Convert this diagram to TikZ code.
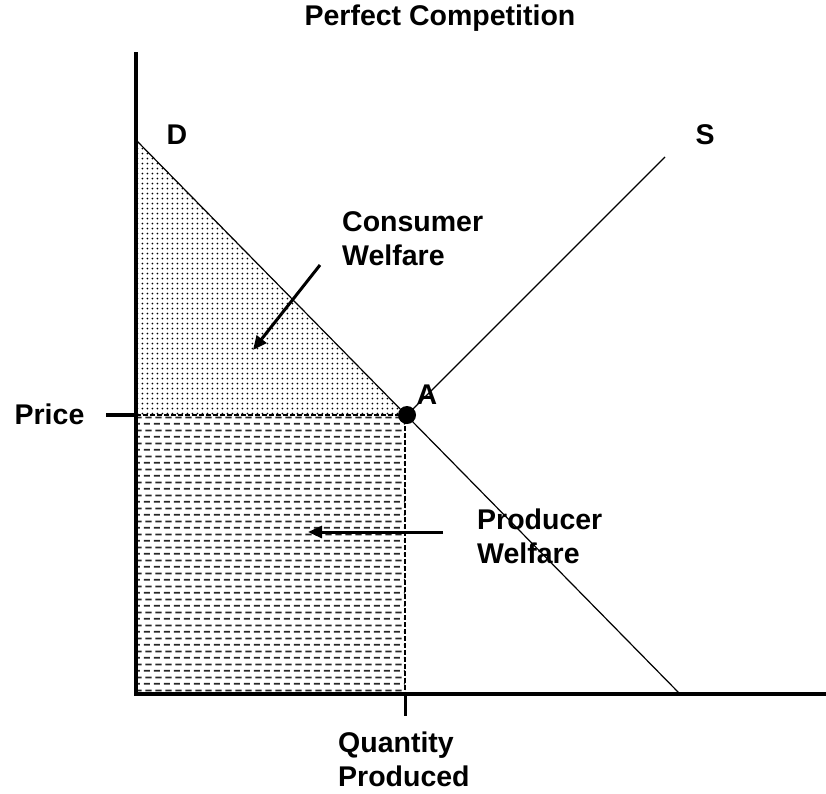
\documentclass[tikz,border=0pt]{standalone}
\usepackage{fontspec}
\setmainfont{Liberation Sans}
\usetikzlibrary{patterns.meta,arrows.meta}

% fill patterns for the two welfare areas
\tikzdeclarepattern{
  name=welfaredots,
  type=uncolored,
  bounding box={(0pt,0pt) and (5.4pt,5.4pt)},
  tile size={(5.4pt,5.4pt)},
  code={\fill (2.7pt,2.7pt) circle (1.1pt);}
}
\tikzdeclarepattern{
  name=welfaredash,
  type=uncolored,
  bounding box={(0pt,0pt) and (9.5pt,13.4pt)},
  tile size={(9.5pt,13.4pt)},
  code={
    \fill (0.8pt,2.4pt) rectangle (7.2pt,4.2pt);
    \fill (2.6pt,9.1pt) rectangle (9pt,10.9pt);
  }
}

\tikzset{
  axis/.style={line width=4.5pt},
  curve/.style={line width=1.2pt},
  lbl/.style={font=\fontsize{28.5}{34}\selectfont\bfseries, inner sep=0pt},
  pointer/.style={line width=3pt, -{Triangle[length=14pt,width=12pt]}},
  edge/.style={line width=2pt, dash pattern=on 5pt off 2pt},
}

\begin{document}
\begin{tikzpicture}[x=1pt,y=-1pt]
  \useasboundingbox (0,0) rectangle (826,793);

  % key points of the diagram
  \coordinate (O) at (136,694);
  \coordinate (Ytop) at (136,52);
  \coordinate (Xend) at (826,694);
  \coordinate (Dtop) at (136,140);
  \coordinate (Dend) at (680,694);
  \coordinate (Stop) at (665,157);
  \coordinate (P) at (136,415);
  \coordinate (Pl) at (106,415);
  \coordinate (Q) at (405,694);
  \coordinate (Qb) at (405,716);
  \coordinate (Aeq) at (407,415);

  % welfare areas
  \fill[pattern=welfaredots, pattern color=black] (Dtop) -- (Aeq) -- (P) -- cycle;
  \fill[pattern=welfaredash, pattern color=black!85] (P) rectangle (Q);

  % demand and supply
  \draw[curve] (Dtop) -- (Dend);
  \draw[curve] (Aeq) -- (Stop);

  % producer welfare edges
  \draw[edge] (P) -- (405,415) -- (Q);

  % axes and ticks
  \draw[axis] (Ytop) -- (O) -- (Xend);
  \draw[line width=4pt] (Pl) -- (P);
  \draw[line width=3pt] (Q) -- (Qb);

  % equilibrium point
  \node[circle, fill=black, minimum size=18pt, inner sep=0pt] (A) at (Aeq) {};

  % labels
  \node[lbl] (title) at (440,18) {Perfect Competition};
  \node[lbl] (dlab) at (177,134.5) {D};
  \node[lbl] (slab) at (705,135) {S};
  \node[lbl] (alab) at (427,395) {A};
  \node[lbl] (price) at (49.5,414) {Price};
  \node[lbl, align=left, anchor=west] (cw) at (342,238.5) {Consumer\\Welfare};
  \node[lbl, align=left, anchor=west] (pw) at (477,536) {Producer\\Welfare};
  \node[lbl, align=left, anchor=west] (qp) at (338,759.5) {Quantity\\Produced};

  % pointers into the areas
  \coordinate (cwfrom) at (320,265);
  \coordinate (cwto) at (253,350);
  \coordinate (pwfrom) at (443,532);
  \coordinate (pwto) at (308,532);
  \draw[pointer] (cwfrom) -- (cwto);
  \draw[pointer] (pwfrom) -- (pwto);
\end{tikzpicture}
\end{document}
